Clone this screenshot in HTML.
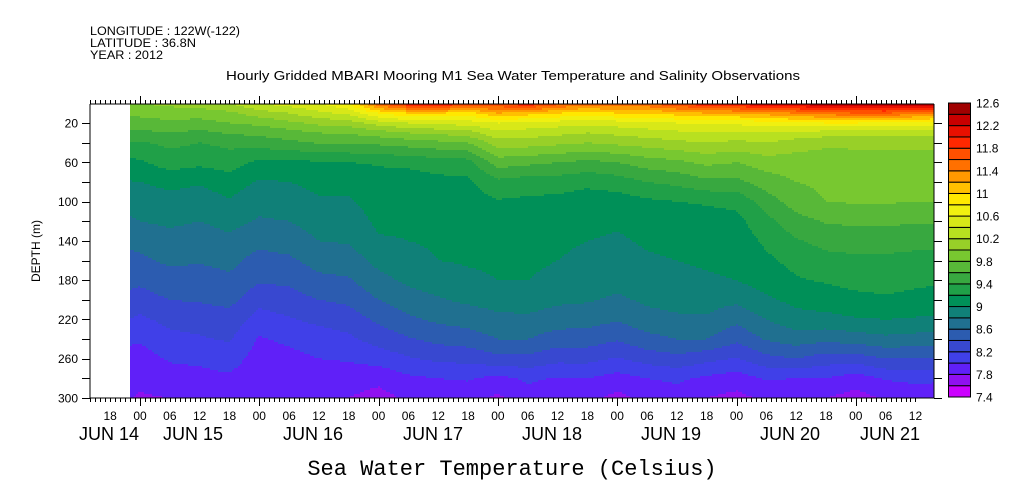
<!DOCTYPE html>
<html><head><meta charset="utf-8">
<style>
html,body{margin:0;padding:0;background:#fff;}
body{width:1009px;height:504px;overflow:hidden;position:relative;font-family:"Liberation Sans",sans-serif;}
svg{position:absolute;left:0;top:0;}
</style></head>
<body>
<svg id="chart" width="1009" height="504" viewBox="0 0 1009 504" xmlns="http://www.w3.org/2000/svg">
  <g font-family="Liberation Sans, sans-serif" font-size="11.5" fill="#000">
    <text x="90" y="35" textLength="150" lengthAdjust="spacingAndGlyphs">LONGITUDE : 122W(-122)</text>
    <text x="90" y="47" textLength="106" lengthAdjust="spacingAndGlyphs">LATITUDE : 36.8N</text>
    <text x="90" y="59" textLength="73" lengthAdjust="spacingAndGlyphs">YEAR : 2012</text>
  </g>
  <text x="226" y="80" textLength="574" lengthAdjust="spacingAndGlyphs" font-size="12.5">Hourly Gridded MBARI Mooring M1 Sea Water Temperature and Salinity Observations</text>
  <g id="cells"></g>
  <g id="axes"></g>
  <g id="cbar"></g>
  <text x="40" y="251" transform="rotate(-90 40 251)" text-anchor="middle" font-size="12">DEPTH (m)</text>
  <text x="512" y="475" text-anchor="middle" font-family="Liberation Mono, monospace" font-size="22">Sea Water Temperature (Celsius)</text>
</svg>
<script>
// ---- data ----
const hours = [-2,0,6,12,18,24,30,36,42,48,54,60,66,72,78,84,90,96,102,108,114,120,126,132,138,144,150,156,160];
const depths = [0,10,20,30,40,60,80,100,120,140,160,180,200,220,240,260,280,300];
const temps = [
[10.0,9.85,9.7,9.55,9.4,9.15,8.99,8.88,8.77,8.63,8.56,8.45,8.35,8.2,8.03,7.94,7.88,7.81],
[10.0,9.85,9.72,9.55,9.38,9.17,9.0,8.9,8.8,8.66,8.56,8.44,8.32,8.16,8.02,7.92,7.84,7.78],
[10.05,9.9,9.75,9.6,9.45,9.3,9.05,8.94,8.84,8.72,8.64,8.52,8.4,8.26,8.14,8.02,7.92,7.8],
[10.1,9.9,9.72,9.55,9.4,9.25,9.02,8.9,8.8,8.7,8.62,8.5,8.42,8.28,8.18,8.04,7.94,7.86],
[10.2,9.95,9.8,9.62,9.45,9.3,9.1,8.98,8.86,8.76,8.66,8.56,8.46,8.32,8.22,8.1,7.96,7.88],
[10.4,10.1,9.85,9.65,9.5,9.15,8.98,8.86,8.78,8.66,8.52,8.43,8.26,8.12,7.98,7.9,7.86,7.8],
[10.5,10.2,9.95,9.72,9.55,9.15,9.0,8.9,8.8,8.7,8.56,8.44,8.32,8.18,8.04,7.94,7.86,7.8],
[10.6,10.35,10.05,9.8,9.62,9.18,9.05,8.98,8.88,8.8,8.68,8.55,8.4,8.25,8.1,8.0,7.88,7.8],
[10.8,10.45,10.1,9.82,9.62,9.2,9.06,8.98,8.9,8.82,8.7,8.58,8.44,8.3,8.16,8.02,7.9,7.8],
[11.6,10.8,10.3,9.9,9.65,9.22,9.12,9.08,9.04,8.98,8.86,8.74,8.6,8.44,8.28,8.08,7.86,7.72],
[12.0,11.0,10.4,10.0,9.7,9.25,9.1,9.06,9.03,9.0,8.92,8.84,8.72,8.56,8.38,8.18,7.96,7.84],
[12.1,11.0,10.45,10.05,9.75,9.3,9.14,9.1,9.06,9.03,9.0,8.9,8.78,8.64,8.46,8.24,8.0,7.88],
[11.8,10.9,10.5,10.1,9.8,9.32,9.16,9.12,9.08,9.05,9.02,8.96,8.84,8.68,8.5,8.26,8.02,7.88],
[11.8,11.2,10.6,10.35,10.1,9.7,9.35,9.18,9.1,9.06,9.03,9.0,8.88,8.75,8.6,8.34,7.94,7.76],
[12.0,11.1,10.55,10.3,10.1,9.65,9.3,9.16,9.1,9.05,9.03,9.0,8.9,8.76,8.6,8.34,8.04,7.9],
[11.7,11.0,10.5,10.25,10.05,9.6,9.3,9.14,9.06,9.03,9.0,8.96,8.84,8.7,8.5,8.26,7.98,7.84],
[11.5,10.9,10.45,10.2,10.0,9.55,9.25,9.1,9.04,9.0,8.96,8.92,8.82,8.68,8.5,8.26,8.0,7.86],
[11.6,11.0,10.5,10.25,10.05,9.6,9.3,9.1,9.02,8.98,8.94,8.88,8.76,8.62,8.42,8.18,7.92,7.74],
[11.6,11.0,10.55,10.3,10.1,9.7,9.4,9.16,9.06,9.02,8.98,8.94,8.84,8.72,8.54,8.28,8.0,7.86],
[11.8,11.1,10.6,10.35,10.15,9.75,9.45,9.2,9.1,9.04,9.0,8.96,8.88,8.76,8.6,8.34,8.04,7.9],
[12.0,11.2,10.6,10.4,10.2,9.85,9.55,9.22,9.12,9.06,9.02,8.98,8.87,8.78,8.6,8.26,7.96,7.8],
[12.1,11.2,10.65,10.35,10.15,9.8,9.55,9.25,9.14,9.08,9.04,9.0,8.85,8.65,8.45,8.18,7.9,7.74],
[12.2,11.3,10.7,10.4,10.2,9.9,9.7,9.5,9.34,9.24,9.16,9.1,8.96,8.8,8.62,8.34,8.02,7.84],
[12.3,11.4,10.75,10.35,10.1,9.9,9.8,9.7,9.52,9.38,9.26,9.18,9.06,8.92,8.7,8.4,8.0,7.8],
[12.4,11.5,10.8,10.3,10.05,9.88,9.84,9.8,9.62,9.46,9.34,9.22,9.1,8.94,8.65,8.3,8.0,7.8],
[12.4,11.6,10.8,10.3,10.05,9.9,9.85,9.82,9.64,9.48,9.36,9.26,9.15,8.98,8.7,8.3,7.9,7.72],
[12.5,11.6,10.75,10.3,10.05,9.9,9.85,9.82,9.64,9.48,9.36,9.26,9.18,9.0,8.75,8.4,8.02,7.82],
[12.5,11.5,10.7,10.3,10.05,9.9,9.84,9.8,9.62,9.46,9.34,9.24,9.15,8.98,8.72,8.4,8.05,7.88],
[12.4,11.4,10.7,10.3,10.05,9.9,9.84,9.8,9.62,9.46,9.34,9.22,9.14,8.96,8.7,8.38,8.04,7.86]
];
const levelColors = ["#cc00ff","#9010f0","#6020f8","#4040e8","#3848d0","#2c5cb0","#207090","#108078","#009058","#20a048","#38a840","#58b838","#78c830","#98d028","#b8e020","#d8e818","#f0f010","#ffe800","#ffc000","#ff9800","#ff7000","#ff5000","#ff2800","#e81000","#c80000","#a00000"];
const cbarLabels = ["12.6","12.2","11.8","11.4","11","10.6","10.2","9.8","9.4","9","8.6","8.2","7.8","7.4"];
const hourLabels = ["18","00","06","12","18","00","06","12","18","00","06","12","18","00","06","12","18","00","06","12","18","00","06","12","18","00","06","12"];
const hourTicks = [-6,0,6,12,18,24,30,36,42,48,54,60,66,72,78,84,90,96,102,108,114,120,126,132,138,144,150,156];
const dayLabels = ["JUN 14","JUN 15","JUN 16","JUN 17","JUN 18","JUN 19","JUN 20","JUN 21"];
const depthLabels = [20,60,100,140,180,220,260,300];
const tMin = 7.4, tStep = 0.2;

// ---- axes functions ----
const X0 = 90, X1 = 934, Y0 = 104, Y1 = 398;
const xOf = h => 140 + h * (119.3/24);
const yOf = d => 103.4 + d * (294.6/300);
const hOf = x => (x - 140) / (119.3/24);
const dOf = y => Math.max(0, (y - 103.4) / (294.6/300));
const NS = "http://www.w3.org/2000/svg";
function mk(tag, attrs, parent){const e=document.createElementNS(NS,tag);for(const k in attrs)e.setAttribute(k,attrs[k]);parent.appendChild(e);return e;}
function interp(h,d){
  let i=0; while(i<hours.length-2 && h>hours[i+1]) i++;
  let j=0; while(j<depths.length-2 && d>depths[j+1]) j++;
  const fx=Math.min(1,Math.max(0,(h-hours[i])/(hours[i+1]-hours[i])));
  const fy=Math.min(1,Math.max(0,(d-depths[j])/(depths[j+1]-depths[j])));
  const a=temps[i][j],b=temps[i+1][j],c=temps[i][j+1],e=temps[i+1][j+1];
  return (a*(1-fx)+b*fx)*(1-fy)+(c*(1-fx)+e*fx)*fy;
}
function colorOf(t){let k=Math.floor((t-tMin)/tStep);k=Math.max(0,Math.min(levelColors.length-1,k));return levelColors[k];}

// ---- field ----
const cells=document.getElementById('cells');
const xs=Math.round(xOf(hours[0])), xe=X1;
const dx=2, dy=2;
for(let y=Y0;y<Y1;y+=dy){
  let runStart=xs, runColor=null;
  for(let x=xs;x<=xe;x+=dx){
    const c = x<xe ? colorOf(interp(hOf(x+dx/2),dOf(y+dy/2))) : null;
    if(c!==runColor){
      if(runColor){
        const r=mk('rect',{x:runStart,y:y,width:x-runStart,height:Math.min(dy,Y1-y),fill:runColor},cells);
        
        
      }
      runStart=x; runColor=c;
    }
  }
}

// ---- axes ----
const ax=document.getElementById('axes');
const line=(x1,y1,x2,y2,n)=>{const l=mk('line',{x1,y1,x2,y2,stroke:'#000','stroke-width':1},ax);return l;};
line(X0,Y0,X1,Y0,'top-axis-line');
line(X0,Y1,X1,Y1,'bottom-axis-line');
line(X0,Y0,X0,Y1,'left-axis-line');
line(X1,Y0,X1,Y1,'right-axis-line');
for(let h=-10;h<=156;h++){
  const x=Math.round(xOf(h))+0.5; const major=((h%24)+24)%24===0;
  line(x,Y0,x,Y0-(major?8:4),'top-tick');
  line(x,Y1,x,Y1+(major?8:4),'bottom-tick');
}
for(let d=20;d<=300;d+=20){
  const y=Math.round(yOf(d))+0.5;
  line(X0-8,y,X0,y,'y-tick');
  line(X1,y,X1+8,y,'right-y-tick');
}
depthLabels.forEach(d=>{
  const t=mk('text',{x:X0-12,y:yOf(d)+4.5,'text-anchor':'end','font-size':12},ax);
  
  
  t.textContent=d;
});
hourTicks.forEach((h,i)=>{
  const t=mk('text',{x:xOf(h),y:420,'text-anchor':'middle','font-size':12},ax);
  
  
  t.textContent=hourLabels[i];
});
const dayCenters=[109,193,313,433,552,671,790,890];
dayLabels.forEach((s,i)=>{
  const t=mk('text',{x:dayCenters[i],y:440,'text-anchor':'middle','font-size':18},ax);
  
  
  t.textContent=s;
});

// ---- color bar ----
const cb=document.getElementById('cbar');
const CB0=103, CB1=397, n=levelColors.length, bh=(CB1-CB0)/n;
levelColors.forEach((c,k)=>{
  const r=mk('rect',{x:948.5,y:CB1-(k+1)*bh,width:22,height:bh,fill:c,stroke:'#000','stroke-width':1},cb);
  
  
});
cbarLabels.forEach((s,i)=>{
  const t=mk('text',{x:976,y:CB0+i*2*bh+4.5,'font-size':12},cb);
  
  
  t.textContent=s;
});
</script>
</body></html>
